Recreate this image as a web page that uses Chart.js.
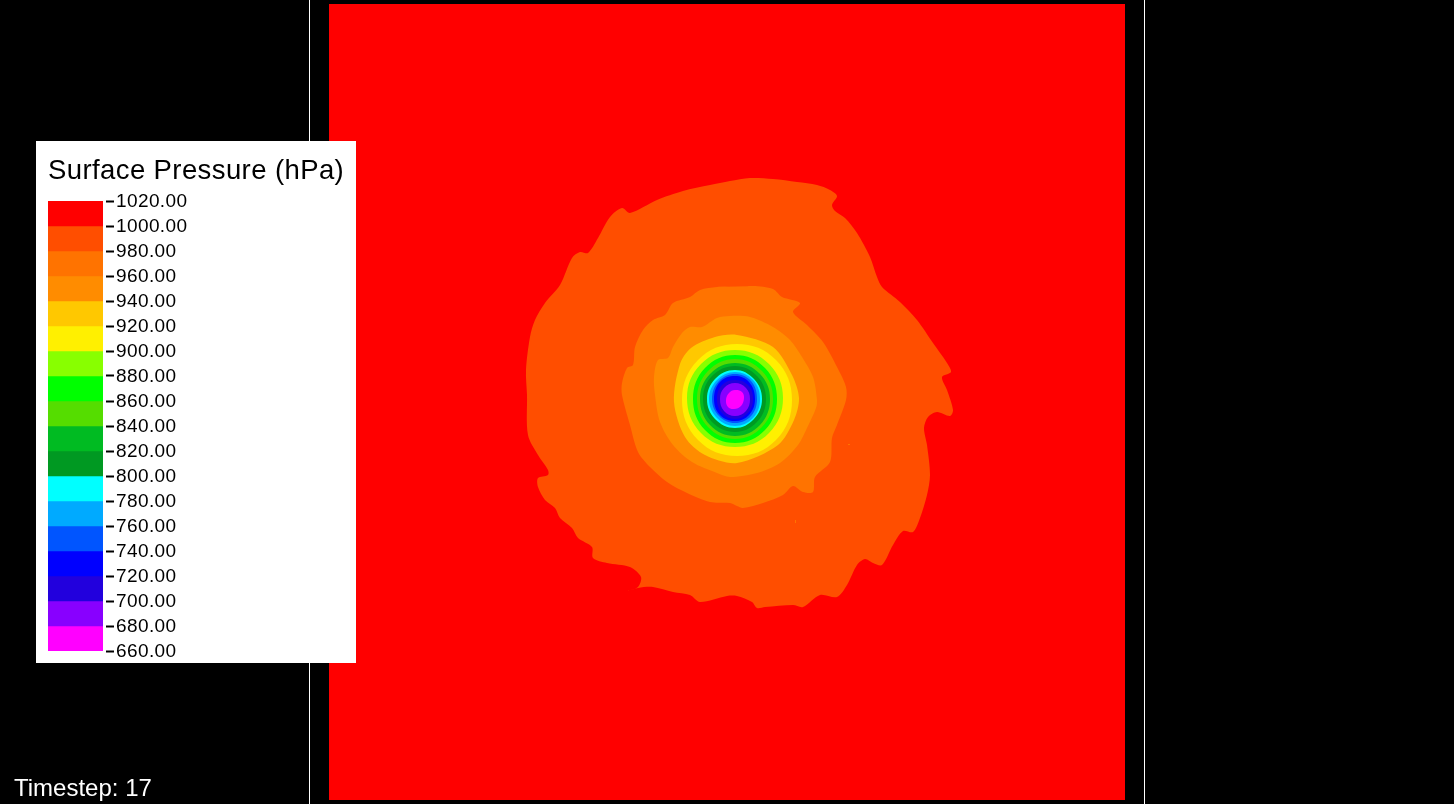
<!DOCTYPE html>
<html>
<head>
<meta charset="utf-8">
<title>Surface Pressure</title>
<script src="https://cdn.jsdelivr.net/npm/chart.js@4"></script>
<style>
  html, body { margin: 0; padding: 0; background: #000; overflow: hidden; }
  #fieldChart { position: absolute; left: 0; top: 0; }
  #legendChart { position: absolute; left: 36px; top: 141px; background: #fff; }
  #timestep {
    position: absolute; left: 14px; top: 774px;
    font: 24px "Liberation Sans", sans-serif; line-height: 28px; color: #fff;
  }
</style>
</head>
<body>
<canvas id="fieldChart" width="1454" height="804"></canvas>
<canvas id="legendChart" width="320" height="522"></canvas>
<div id="timestep">Timestep: 17</div>

<script>
// colour bar, top to bottom
const pressureLevels = [1020, 1000, 980, 960, 940, 920, 900, 880, 860, 840, 820, 800, 780, 760, 740, 720, 700, 680, 660];
const bandColors = [
  "#ff0000", "#ff4e00", "#ff7300", "#ff8c00", "#ffc800", "#fff000",
  "#88ff00", "#00ff00", "#55dd00", "#00bb22", "#009922", "#00ffff",
  "#00aaff", "#0055ff", "#0000ff", "#2200dd", "#8800ff", "#ff00ff"
];

// contour outlines on the model grid (0..796 in both directions, y downwards)
const domainEdge = [[0, 0], [796, 0], [796, 796], [0, 796]];
const contour1000 = [
  [401, 177], [421, 174], [444, 175], [468, 178], [488, 181], [501, 186], [508, 192], [503, 201], [506, 207],
  [516, 214], [528, 229], [541, 253], [548, 273], [553, 283], [571, 298], [588, 316], [604, 339], [618, 359],
  [622, 368], [613, 373], [618, 386], [624, 406], [621, 412], [608, 408], [599, 413], [595, 424], [598, 441],
  [601, 471], [598, 491], [591, 514], [584, 528], [574, 527], [564, 541], [553, 561], [544, 559], [536, 555],
  [528, 561], [518, 581], [508, 593], [491, 591], [474, 603], [464, 601], [436, 603], [428, 604], [423, 598],
  [408, 592], [398, 592], [371, 598], [361, 591], [344, 588], [324, 583], [309, 584], [299, 587], [309, 583],
  [312, 573], [301, 563], [278, 559], [264, 554], [263, 543], [249, 534], [243, 524], [231, 514], [226, 504],
  [216, 496], [209, 483], [209, 474], [219, 471], [219, 466], [209, 451], [199, 431], [198, 391], [197, 366],
  [201, 333], [206, 316], [216, 299], [231, 281], [243, 254], [251, 248], [259, 249], [269, 234], [281, 213],
  [293, 204], [301, 209], [328, 196], [354, 187], [381, 181]
];
const contour980 = [
  [401, 283], [424, 282], [444, 285], [453, 293], [471, 299], [464, 308], [478, 321], [494, 338], [508, 363],
  [517, 383], [517, 396], [508, 421], [503, 434], [501, 458], [486, 473], [484, 488], [474, 488], [464, 482],
  [454, 491], [434, 499], [414, 504], [408, 502], [401, 499], [381, 498], [358, 489], [338, 478], [321, 463],
  [309, 448], [301, 421], [293, 391], [293, 379], [298, 364], [304, 361], [306, 343], [314, 326], [324, 316],
  [336, 311], [344, 299], [361, 293], [371, 286], [388, 283]
];
const contour960 = [
  [401, 312], [421, 313], [444, 323], [461, 336], [473, 353], [484, 373], [488, 396], [487, 404], [478, 424],
  [469, 441], [451, 459], [428, 469], [401, 473], [388, 469], [363, 458], [344, 441], [331, 418], [326, 391],
  [325, 373], [329, 356], [339, 354], [344, 343], [353, 329], [361, 323], [373, 323], [388, 314]
];
const contour940 = [
  [408, 331], [444, 343], [463, 371], [470, 394], [465, 416], [449, 441], [408, 459], [376, 451], [356, 433],
  [345, 398], [351, 360], [362, 344], [386, 333]
];
const contour920 = [[408, 340], [447, 356], [463, 396], [447, 436], [408, 452], [369, 436], [353, 396], [369, 356]];
const contour900 = [[406, 346], [440, 360], [454, 394], [440, 429], [406, 443], [372, 429], [358, 394], [372, 360]];
const contour880 = [[406, 351], [436, 364], [448, 395], [436, 426], [406, 439], [376, 426], [364, 395], [376, 364]];
const contour860 = [[406, 355], [433, 367], [444, 395], [433, 423], [406, 435], [379, 423], [368, 395], [379, 367]];
const contour840 = [[406, 359], [431, 370], [441, 395], [431, 421], [406, 432], [381, 421], [371, 395], [381, 370]];
const contour820 = [[406, 362], [428, 372], [437, 395], [428, 418], [406, 428], [383, 418], [374, 395], [383, 372]];
const contour800 = [[406, 366], [425, 375], [433, 395], [425, 415], [406, 424], [386, 415], [378, 395], [386, 375]];
const contour780 = [[406, 368], [424, 376], [431, 395], [424, 414], [406, 422], [388, 414], [380, 395], [388, 376]];
const contour760 = [[406, 370], [422, 377], [428, 395], [422, 412], [406, 419], [390, 412], [383, 395], [390, 377]];
const contour740 = [[406, 372], [420, 378], [426, 395], [420, 411], [406, 417], [391, 411], [385, 395], [391, 378]];
const contour720 = [[406, 376], [419, 381], [424, 395], [419, 409], [406, 415], [393, 409], [388, 395], [393, 381]];
const contour700 = [[406, 379], [417, 384], [421, 395], [417, 407], [406, 412], [395, 407], [391, 395], [395, 384]];
const contour680 = [[406, 386], [413, 388], [415, 394], [412, 402], [405, 405], [399, 403], [397, 396], [400, 389]];

// two stray cells in the 1000 band
const speckA = [[466, 516], [467, 516], [467, 519], [466, 519]];
const speckB = [[519, 440], [521, 440], [521, 441], [519, 441]];

// side walls of the plot frame
const frameLeft = [[-19.5, -4], [-19.5, 800]];
const frameRight = [[815.5, -4], [815.5, 800]];

Chart.defaults.font.family = '"Liberation Sans", sans-serif';
Chart.defaults.animation = false;

const toPoints = (list) => list.map(([x, y]) => ({ x, y }));

// walk one point past the seam at both ends so the spline has no kink there
const wrapLoop = (list) => [list[list.length - 1], ...list, list[0], list[1]];

// ---------- pressure field ----------
const contours = [
  domainEdge, contour1000, contour980, contour960, contour940, contour920, contour900, contour880, contour860,
  contour840, contour820, contour800, contour780, contour760, contour740, contour720, contour700, contour680
];

const fieldDatasets = contours.map((outline, i) => ({
  label: `< ${pressureLevels[i]}`,
  data: toPoints(i === 0 ? outline : wrapLoop(outline)),
  showLine: true,
  fill: "shape",
  backgroundColor: bandColors[i],
  borderWidth: 0,
  pointRadius: 0,
  tension: i === 0 ? 0 : (i < 5 ? 0.3 : 0.4),
  order: 100 - i
}));

[speckA, speckB].forEach((outline) => {
  fieldDatasets.push({
    data: toPoints(outline),
    showLine: true,
    fill: "shape",
    backgroundColor: bandColors[2],
    borderWidth: 0,
    pointRadius: 0,
    order: 50
  });
});

[frameLeft, frameRight].forEach((line) => {
  fieldDatasets.push({
    data: toPoints(line),
    showLine: true,
    fill: false,
    borderColor: "#fff",
    borderWidth: 1,
    pointRadius: 0,
    order: 0
  });
});

new Chart(document.getElementById("fieldChart"), {
  type: "scatter",
  data: { datasets: fieldDatasets },
  options: {
    responsive: false,
    layout: { padding: 0 },
    plugins: { legend: { display: false }, tooltip: { enabled: false } },
    scales: {
      x: { type: "linear", display: false, min: -329, max: 1125 },
      y: { type: "linear", display: false, min: -4, max: 800, reverse: true }
    }
  }
});

// ---------- colour bar ----------
const legendDatasets = bandColors.map((color, i) => ({
  data: [[pressureLevels[i + 1], pressureLevels[i]]],
  backgroundColor: color,
  borderWidth: 0,
  barPercentage: 1,
  categoryPercentage: 1,
  grouped: false
}));

// the legend text in the picture is set slightly tracked
const trackedText = {
  id: "trackedText",
  beforeDraw(chart) { chart.ctx.letterSpacing = "0.4px"; }
};

new Chart(document.getElementById("legendChart"), {
  type: "bar",
  data: { labels: [""], datasets: legendDatasets },
  plugins: [trackedText],
  options: {
    responsive: false,
    layout: { padding: { left: 12, right: 0, top: 0, bottom: 12 } },
    plugins: {
      legend: { display: false },
      tooltip: { enabled: false },
      title: {
        display: true,
        text: "Surface Pressure (hPa)",
        align: "start",
        color: "#000",
        font: { size: 27.5, weight: "normal" },
        padding: { top: 13.5, bottom: 13.5 }
      }
    },
    scales: {
      x: { display: false },
      y: {
        type: "linear",
        position: "right",
        min: 660,
        max: 1020,
        afterFit: (scale) => {
          scale.width = 253;
          scale.paddingTop = 0;
          scale.paddingBottom = 0;
        },
        border: { display: false },
        grid: {
          drawOnChartArea: false,
          tickLength: 11,
          tickWidth: 2,
          tickColor: "#000",
          tickBorderDash: [0, 3, 8, 100]
        },
        ticks: {
          stepSize: 20,
          autoSkip: false,
          padding: 2,
          labelOffset: 0.5,
          color: "#000",
          font: { size: 19 },
          callback: (v) => v.toFixed(2)
        }
      }
    }
  }
});
</script>
</body>
</html>
